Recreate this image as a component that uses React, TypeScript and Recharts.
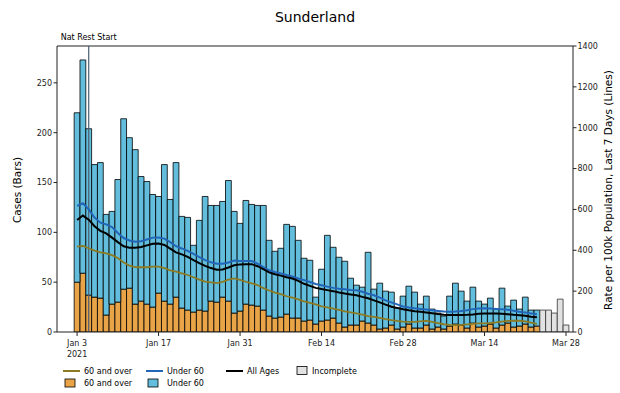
import React from 'react';
import { ComposedChart, Bar, Line, XAxis, YAxis, ReferenceLine } from 'recharts';

// Day index 0 = Jan 3 2021
const xTicks = [0, 14, 28, 42, 56, 70, 84];
const xTickLabels = ['Jan 3', 'Jan 17', 'Jan 31', 'Feb 14', 'Feb 28', 'Mar 14', 'Mar 28'];
const leftTicks = [0, 50, 100, 150, 200, 250];
const rightTicks = [0, 200, 400, 600, 800, 1000, 1200, 1400];

// Daily cases, 60 and over (bars, bottom)
const over60Cases = [
  50, 59, 37, 35, 34, 17, 28, 30, 43, 44,
  28, 31, 28, 25, 39, 31, 28, 35, 24, 22,
  20, 22, 21, 31, 30, 35, 31, 19, 21, 28,
  27, 26, 22, 16, 14, 15, 18, 14, 14, 11,
  12, 8, 11, 12, 14, 9, 5, 7, 7, 11,
  9, 7, 3, 4, 7, 3, 5, 8, 4, 4,
  7, 3, 5, 3, 6, 8, 7, 4, 9, 5,
  6, 8, 4, 7, 9, 5, 6, 8, 5, 6,
];
// Daily cases, under 60 (bars, stacked on top)
const under60Cases = [
  170, 214, 167, 133, 136, 101, 93, 123, 171, 151,
  155, 125, 123, 113, 97, 137, 105, 135, 92, 93,
  67, 90, 115, 96, 97, 96, 121, 102, 88, 104,
  101, 101, 105, 76, 67, 69, 90, 92, 78, 63,
  60, 27, 52, 85, 71, 66, 66, 47, 40, 34,
  71, 36, 46, 37, 33, 21, 31, 38, 36, 24,
  29, 20, 14, 13, 30, 41, 34, 27, 36, 26,
  22, 26, 19, 37, 17, 27, 17, 27, 17, 16,
];
// Incomplete days (last five)
const incompleteStart = 80;
const incompleteCases = [22, 22, 19, 33, 7];

// Rates per 100k, last 7 days (lines)
const allAgesRate = [
  548, 570, 550, 518, 495, 483, 462, 440, 420, 413,
  412, 416, 424, 432, 433, 426, 408, 390, 380, 368,
  352, 337, 324, 313, 305, 306, 316, 327, 331, 332,
  332, 322, 308, 292, 283, 276, 268, 262, 250, 236,
  226, 216, 210, 205, 200, 193, 188, 184, 180, 172,
  165, 155, 145, 134, 124, 118, 111, 106, 102, 99,
  96, 92, 88, 85, 83, 83, 83, 84, 86, 89,
  91, 91, 91, 89, 87, 84, 82, 79, 75, 72,
];
const under60Rate = [
  617, 630, 600, 560, 535, 527, 514, 485, 460, 448,
  442, 444, 453, 462, 463, 457, 440, 420, 409, 397,
  382, 366, 352, 341, 334, 334, 340, 350, 348, 347,
  347, 335, 318, 302, 294, 287, 279, 272, 262, 254,
  245, 235, 229, 222, 216, 212, 209, 206, 204, 197,
  187, 180, 168, 155, 145, 135, 125, 120, 116, 113,
  110, 106, 103, 100, 99, 100, 103, 107, 112, 115,
  116, 115, 113, 111, 109, 104, 99, 95, 91, 87,
];
const over60Rate = [
  418, 421, 410, 398, 390, 385, 376, 362, 340, 325,
  318, 317, 317, 320, 320, 313, 302, 295, 287, 279,
  268, 256, 247, 243, 239, 245, 256, 262, 255, 246,
  238, 230, 215, 203, 193, 185, 175, 168, 160, 150,
  143, 135, 126, 120, 114, 108, 101, 96, 91, 85,
  78, 74, 69, 63, 58, 54, 51, 50, 50, 52,
  54, 50, 44, 38, 35, 34, 35, 37, 40, 42,
  42, 44, 47, 51, 54, 55, 55, 52, 46, 40,
];

const natRestDay = 2; // Jan 5

const totalDays = incompleteStart + incompleteCases.length;
const data = Array.from({ length: totalDays }, (_, i) => ({
  d: i,
  o60: i < over60Cases.length ? over60Cases[i] : null,
  u60: i < under60Cases.length ? under60Cases[i] : null,
  inc: i >= incompleteStart ? incompleteCases[i - incompleteStart] : null,
  all: i < allAgesRate.length ? allAgesRate[i] : null,
  u60r: i < under60Rate.length ? under60Rate[i] : null,
  o60r: i < over60Rate.length ? over60Rate[i] : null,
}));

const FONT = 'DejaVu Sans';
const C_ORANGE = '#e9a448';
const C_BLUE = '#62bedc';
const C_INC = '#e2e2e2';
const C_OLIVE = '#8c7b22';
const C_BLUELINE = '#2166b8';
const C_AXIS = '#222';

const XTick = (props: any) => {
  const { x, y, payload } = props;
  const idx = xTicks.indexOf(payload.value);
  const label = idx >= 0 ? xTickLabels[idx] : '';
  return (
    <g>
      <text x={x} y={y} dy={8} textAnchor="middle" fontSize={8} fill={C_AXIS} fontFamily={FONT}>
        {label}
      </text>
      {idx === 0 && (
        <text x={x} y={y} dy={19} textAnchor="middle" fontSize={8} fill={C_AXIS} fontFamily={FONT}>
          2021
        </text>
      )}
    </g>
  );
};

const Overlay = () => (
  <svg
    width={620}
    height={393}
    style={{ position: 'absolute', left: 0, top: 0, pointerEvents: 'none' }}
    fontFamily={FONT}
  >
    <text x={315} y={22} textAnchor="middle" fontSize={14} fill="#000">
      Sunderland
    </text>
    <text
      x={17}
      y={190}
      textAnchor="middle"
      dominantBaseline="central"
      fontSize={10.5}
      fill="#000"
      transform="rotate(-90 17 190)"
    >
      Cases (Bars)
    </text>
    <text
      x={608}
      y={190}
      textAnchor="middle"
      dominantBaseline="central"
      fontSize={10.5}
      fill="#000"
      transform="rotate(-90 608 190)"
    >
      Rate per 100k Population, Last 7 Days (Lines)
    </text>
    {/* legend row 1 */}
    <line x1={63} x2={80} y1={371} y2={371} stroke={C_OLIVE} strokeWidth={2} />
    <text x={84} y={374} fontSize={8} fill="#000">60 and over</text>
    <line x1={146} x2={163} y1={371} y2={371} stroke={C_BLUELINE} strokeWidth={2} />
    <text x={167} y={374} fontSize={8} fill="#000">Under 60</text>
    <line x1={226} x2={243} y1={371} y2={371} stroke="#000" strokeWidth={2} />
    <text x={247} y={374} fontSize={8} fill="#000">All Ages</text>
    <rect x={297} y={366.5} width={10} height={8} fill={C_INC} stroke="#000" strokeWidth={0.8} />
    <text x={312} y={374} fontSize={8} fill="#000">Incomplete</text>
    {/* legend row 2 */}
    <rect x={65} y={379} width={10} height={8} fill={C_ORANGE} stroke="#000" strokeWidth={0.8} />
    <text x={84} y={386} fontSize={8} fill="#000">60 and over</text>
    <rect x={148} y={379} width={10} height={8} fill={C_BLUE} stroke="#000" strokeWidth={0.8} />
    <text x={167} y={386} fontSize={8} fill="#000">Under 60</text>
  </svg>
);

export default function App() {
  return (
    <div style={{ position: 'absolute', left: 0, top: 0, width: 620, height: 393, background: '#fff' }}>
      <ComposedChart
        width={620}
        height={393}
        data={data}
        margin={{ top: 46, right: 7, bottom: 31, left: 17 }}
      >
        <XAxis
          type="number"
          dataKey="d"
          domain={[-3.45, 85.2]}
          ticks={xTicks}
          interval={0}
          allowDataOverflow
          tick={XTick}
          tickSize={4}
          height={30}
          axisLine={{ stroke: C_AXIS }}
          tickLine={{ stroke: C_AXIS }}
        />
        <YAxis
          yAxisId="left"
          domain={[0, 287]}
          ticks={leftTicks}
          interval={0}
          allowDataOverflow
          width={40}
          tickSize={3.5}
          tickMargin={1.5}
          axisLine={{ stroke: C_AXIS }}
          tickLine={{ stroke: C_AXIS }}
          tick={{ fontSize: 8, fill: C_AXIS, fontFamily: FONT }}
        />
        <YAxis
          yAxisId="right"
          orientation="right"
          domain={[0, 1400]}
          ticks={rightTicks}
          interval={0}
          allowDataOverflow
          width={40}
          tickSize={3.5}
          tickMargin={1}
          axisLine={{ stroke: C_AXIS }}
          tickLine={{ stroke: C_AXIS }}
          tick={{ fontSize: 8, fill: C_AXIS, fontFamily: FONT }}
        />
        <ReferenceLine yAxisId="left" y={287} stroke={C_AXIS} strokeWidth={1} />
        <Bar yAxisId="left" dataKey="o60" stackId="a" fill={C_ORANGE} stroke="#000" strokeWidth={0.8} barSize={5.8} isAnimationActive={false} />
        <Bar yAxisId="left" dataKey="u60" stackId="a" fill={C_BLUE} stroke="#000" strokeWidth={0.8} barSize={5.8} isAnimationActive={false} />
        <Bar yAxisId="left" dataKey="inc" stackId="a" fill={C_INC} stroke="#333" strokeWidth={0.8} barSize={5.8} isAnimationActive={false} />
        <ReferenceLine
          yAxisId="left"
          x={natRestDay}
          stroke="#4d5e70"
          strokeWidth={1.2}
          label={{ value: 'Nat Rest Start', position: 'top', offset: 6, fontSize: 8, fill: '#000', fontFamily: FONT }}
        />
        <Line yAxisId="right" dataKey="o60r" stroke={C_OLIVE} strokeWidth={1.8} dot={false} isAnimationActive={false} />
        <Line yAxisId="right" dataKey="u60r" stroke={C_BLUELINE} strokeWidth={2} dot={false} isAnimationActive={false} />
        <Line yAxisId="right" dataKey="all" stroke="#000" strokeWidth={2} dot={false} isAnimationActive={false} />
      </ComposedChart>
      <Overlay />
    </div>
  );
}
